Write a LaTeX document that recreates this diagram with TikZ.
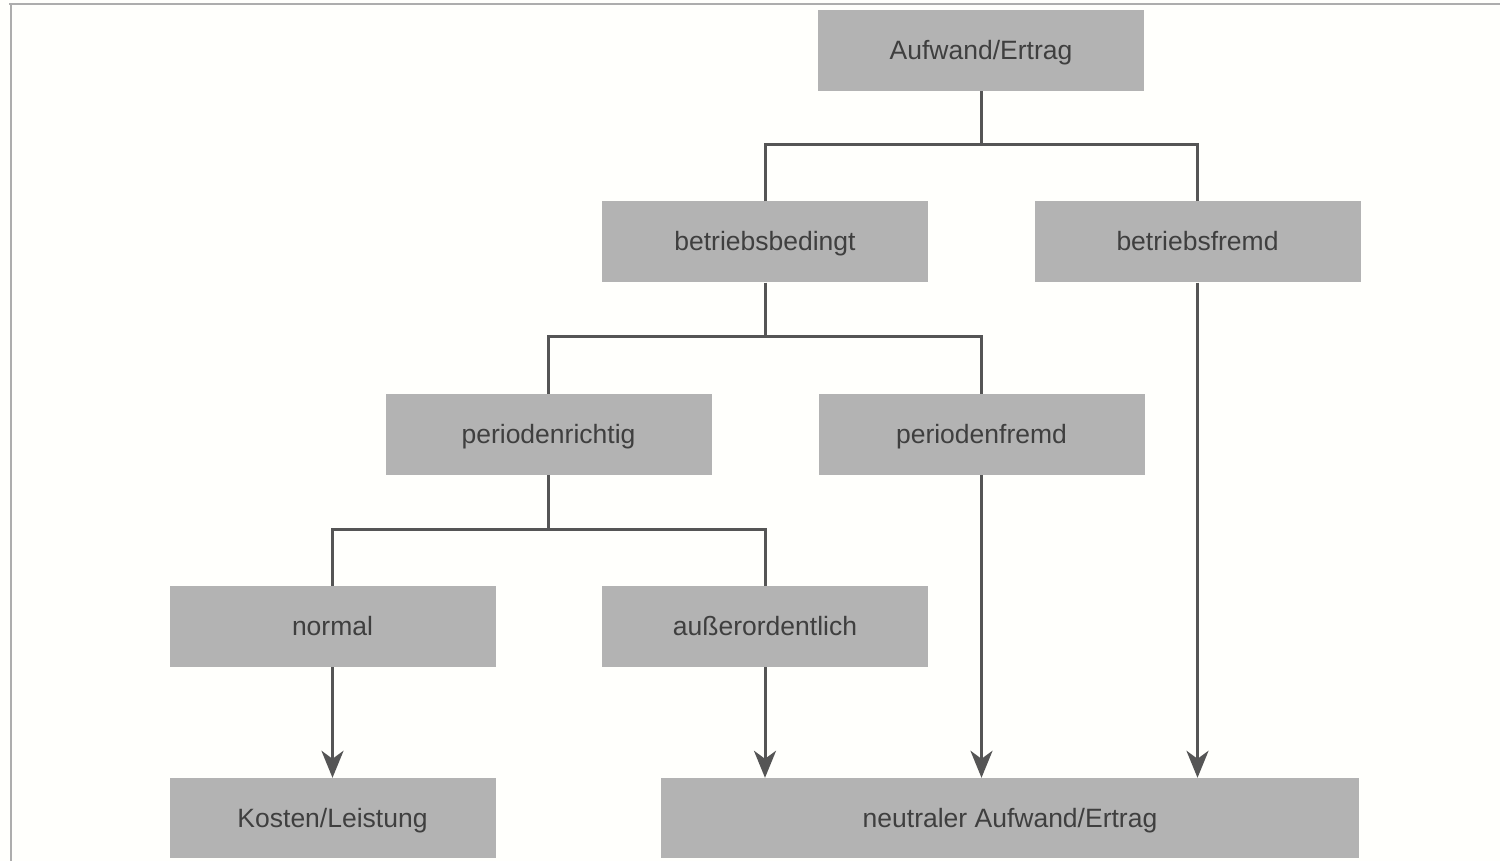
\documentclass[tikz,border=0pt]{standalone}
\usepackage{fontspec}
\setmainfont{Liberation Sans}
\usetikzlibrary{arrows.meta}
\definecolor{boxfill}{HTML}{B3B3B3}
\definecolor{linecol}{HTML}{555555}
\definecolor{txtcol}{HTML}{3F3F3F}
\definecolor{framecol}{HTML}{ADADAD}
\tikzset{
  box/.style={rectangle, fill=boxfill, draw=none, minimum width=326pt, minimum height=81pt,
    inner sep=0pt, text height=21.5pt, text depth=3.5pt, text=txtcol, font=\fontsize{26.5}{30}\selectfont},
  conn/.style={draw=linecol, line width=3pt},
  arr/.style={conn, -{Stealth[length=27pt,width=22pt,inset=8pt]}}
}
\begin{document}
\begin{tikzpicture}[x=1pt,y=-1pt]
\fill[white!99!yellow] (0,0) rectangle (1500,861);
\useasboundingbox (0,0) rectangle (1500,861);
\draw[framecol, line width=2pt] (9,4.5) -- (1500,4.5);
\draw[framecol, line width=2pt] (10.5,4) -- (10.5,861);

\node[box] (auf) at (981,50.5) {Aufwand/Ertrag};
\node[box] (bb) at (765,242) {betriebsbedingt};
\node[box] (bf) at (1197.5,242) {betriebsfremd};
\node[box] (pr) at (548.5,434.5) {periodenrichtig};
\node[box] (pf) at (981.5,434.5) {periodenfremd};
\node[box] (no) at (332.5,626.5) {normal};
\node[box] (ao) at (765,626.5) {außerordentlich};
\node[box, minimum height=80pt] (kl) at (332.5,818) {Kosten/Leistung};
\node[box, minimum width=698pt, minimum height=80pt] (ne) at (1010,818) {neutraler Aufwand/Ertrag};

\draw[conn] (auf.south) -- ++(0,53) coordinate (j1);
\draw[conn] (bb.north) |- (j1) -| (bf.north);
\draw[conn] (bb.south) -- ++(0,54) coordinate (j2);
\draw[conn] (pr.north) |- (j2) -| (pf.north);
\draw[conn] (pr.south) -- ++(0,54) coordinate (j3);
\draw[conn] (no.north) |- (j3) -| (ao.north);

\draw[arr] (no.south) -- (kl.north);
\draw[arr] (ao.south) -- (ao.south |- ne.north);
\draw[arr] (pf.south) -- (pf.south |- ne.north);
\draw[arr] (bf.south) -- (bf.south |- ne.north);
\end{tikzpicture}
\end{document}
